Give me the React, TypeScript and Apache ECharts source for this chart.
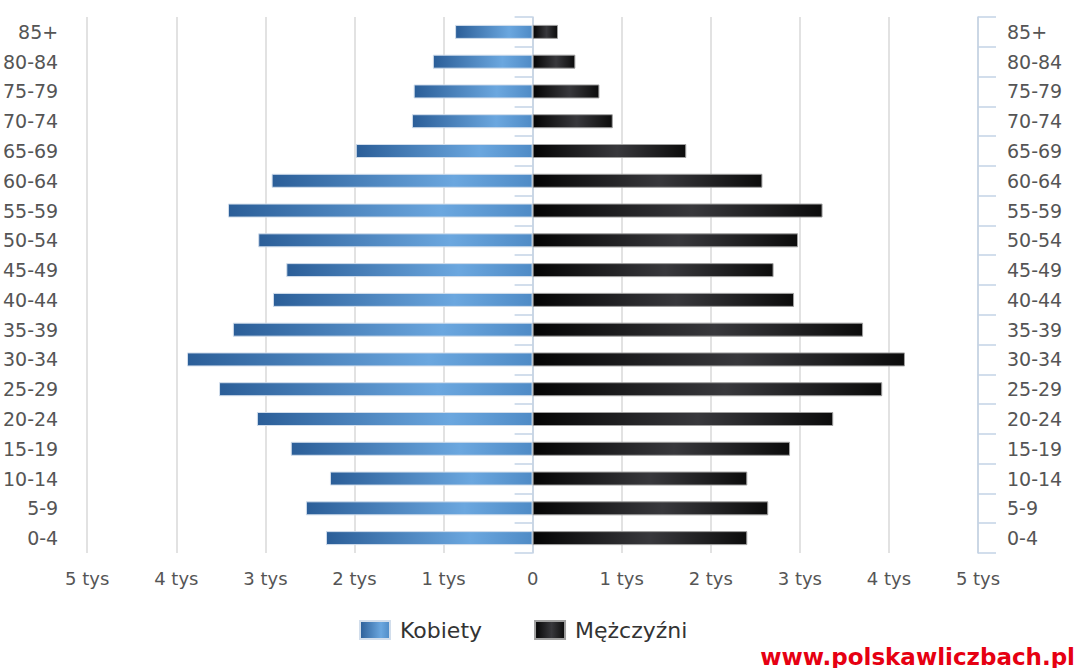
import React, { useEffect, useRef } from "react";
import * as echarts from "echarts";

const ageGroups = [
  "0-4", "5-9", "10-14", "15-19", "20-24", "25-29", "30-34", "35-39", "40-44",
  "45-49", "50-54", "55-59", "60-64", "65-69", "70-74", "75-79", "80-84", "85+",
];

const women = [
  2320, 2545, 2275, 2715, 3095, 3520, 3880, 3365, 2915,
  2765, 3080, 3420, 2930, 1985, 1355, 1335, 1120, 870,
];

const men = [
  2410, 2645, 2410, 2890, 3375, 3925, 4180, 3710, 2935,
  2705, 2980, 3255, 2580, 1725, 900, 750, 480, 285,
];

const valueTicks = [-5000, -4000, -3000, -2000, -1000, 0, 1000, 2000, 3000, 4000, 5000];

const FONT = "DejaVu Sans, Verdana, sans-serif";

export default function App() {
  const ref = useRef<HTMLDivElement>(null);

  useEffect(() => {
    document.body.style.margin = "0";
    if (!ref.current) return;
    const chart = echarts.init(ref.current, undefined, { renderer: "svg" });

    const blueFill = new echarts.graphic.LinearGradient(0, 0, 1, 0, [
      { offset: 0, color: "#2b5e98" },
      { offset: 0.7, color: "#6ba7df" },
      { offset: 1, color: "#4f8bc6" },
    ]);
    const blackFill = new echarts.graphic.LinearGradient(0, 0, 1, 0, [
      { offset: 0, color: "#040404" },
      { offset: 0.55, color: "#38383c" },
      { offset: 1, color: "#0c0c0c" },
    ]);

    const catAxisCommon = {
      type: "category" as const,
      data: ageGroups,
      boundaryGap: true,
      axisLine: { show: true, lineStyle: { color: "#c3d3e6", width: 1.5 } },
      axisTick: { show: true, length: 18, lineStyle: { color: "#c3d3e6", width: 1.5 } },
      axisLabel: { fontSize: 19, color: "#555", fontFamily: FONT, margin: 29 },
      splitLine: { show: false },
    };

    chart.setOption({
      animation: false,
      backgroundColor: "#fff",
      grid: { left: 86, right: 99, top: 17, bottom: 115, containLabel: false },
      xAxis: {
        type: "value",
        min: valueTicks[0],
        max: valueTicks[valueTicks.length - 1],
        interval: 1000,
        axisLine: { show: false },
        axisTick: { show: false },
        splitLine: { show: true, lineStyle: { color: "#d9d9d9", width: 1.5 } },
        axisLabel: {
          fontSize: 18,
          color: "#555",
          fontFamily: FONT,
          margin: 16,
          formatter: (v: number) => (v === 0 ? "0" : Math.abs(v) / 1000 + " tys"),
        },
      },
      yAxis: [
        { ...catAxisCommon, position: "left" },
        { ...catAxisCommon, position: "right" },
      ],
      legend: {
        data: ["Kobiety", "Mężczyźni"],
        left: 359,
        top: 619,
        padding: 0,
        icon: "rect",
        itemWidth: 30,
        itemHeight: 18,
        itemGap: 52,
        textStyle: { fontSize: 22, color: "#333", fontFamily: FONT, padding: [0, 0, 0, 5] },
      },
      series: [
        {
          name: "Kobiety",
          type: "bar",
          stack: "pop",
          yAxisIndex: 0,
          barWidth: 14,
          data: women.map((v) => -v),
          itemStyle: { color: blueFill, borderColor: "#d2deec", borderWidth: 1 },
        },
        {
          name: "Mężczyźni",
          type: "bar",
          stack: "pop",
          yAxisIndex: 0,
          barWidth: 14,
          data: men,
          itemStyle: { color: blackFill, borderColor: "#a0a0a0", borderWidth: 1 },
        },
      ],
      graphic: [
        {
          type: "text",
          right: 2,
          top: 645,
          style: {
            text: "www.polskawliczbach.pl",
            fill: "#e60012",
            font: "bold 23px DejaVu Sans, Verdana, sans-serif",
          },
        },
      ],
    });

    return () => chart.dispose();
  }, []);

  return <div ref={ref} style={{ width: 1077, height: 668 }} />;
}
